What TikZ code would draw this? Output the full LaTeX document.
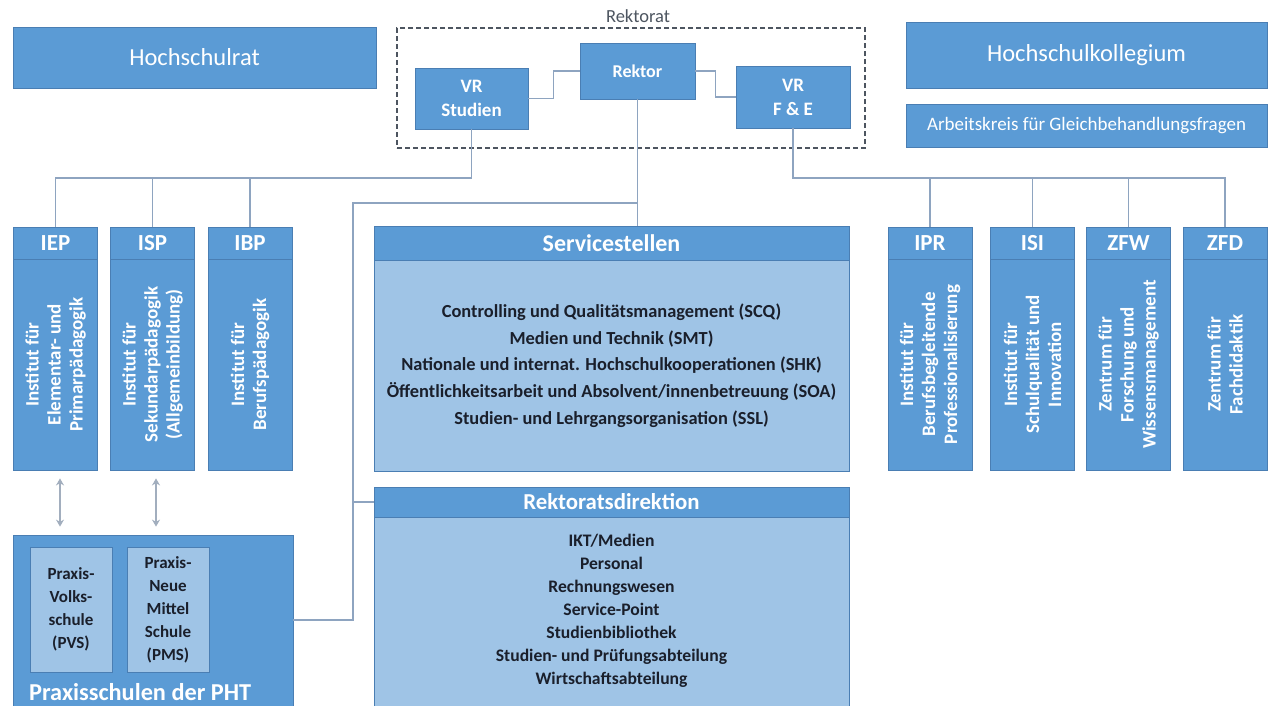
\documentclass[tikz,border=0pt]{standalone}
\usepackage{fontspec}
\setmainfont{Carlito}
\usetikzlibrary{calc,arrows.meta}
\definecolor{boxblue}{HTML}{5B9BD5}
\definecolor{edgeblue}{HTML}{4A7EB3}
\definecolor{lightblue}{HTML}{9FC4E6}
\definecolor{linecol}{HTML}{8EA4C0}
\definecolor{arrowcol}{HTML}{A2AEBE}
\definecolor{darktext}{HTML}{1A1F2B}
\definecolor{dashcol}{HTML}{4D5560}
\tikzset{
  blbox/.style={draw=edgeblue, fill=boxblue, line width=0.8pt, inner sep=0pt, text=white},
  ltbox/.style={draw=edgeblue, fill=lightblue, line width=0.8pt, inner sep=0pt, text=darktext},
  conn/.style={draw=linecol, line width=1.4pt},
  dblarrow/.style={draw=arrowcol, line width=1.2pt, {Stealth[length=7pt,width=8pt]}-{Stealth[length=7pt,width=8pt]}},
  rektbox/.style={draw=dashcol, line width=1.5pt, dash pattern=on 5pt off 3pt},
  instbody/.style={blbox, minimum width=84pt, minimum height=211pt},
  insthead/.style={blbox, minimum width=84pt, minimum height=32pt, font=\bfseries\fontsize{23}{25}\selectfont},
  insttext/.style={rotate=90, align=center, text=white, font=\bfseries\fontsize{19}{22}\selectfont},
}
\newcommand\instbox[4]{%
  \node[instbody] (#1) at (#2,364.5) {};
  \node[insthead] (#1hd) at (#2,243) {#3};
  \node[insttext] (#1tx) at (#2,364.5) {#4};
}
\begin{document}
\begin{tikzpicture}[x=1pt,y=-1pt]
\useasboundingbox (0,0) rectangle (1268,705);
\clip (0,0) rectangle (1268,705);
\fill[white] (0,0) rectangle (1268,705);

% connectors (drawn first, behind boxes)
\coordinate (vrsS) at (471.5,129);
\coordinate (vrfS) at (793,128);
\coordinate (rekS) at (637.5,99);

% top row
\node[blbox, minimum width=363pt, minimum height=61pt, font=\fontsize{24.5}{27}\selectfont] (hr) at (194.5,57.5) {Hochschulrat};
\node[blbox, minimum width=361pt, minimum height=66pt, font=\fontsize{24.5}{27}\selectfont] (hk) at (1086.5,55) {Hochschulkollegium};
\node[blbox, minimum width=361pt, minimum height=43pt, font=\fontsize{19}{21}\selectfont] (ak) at (1086.5,125.5) {Arbeitskreis für Gleichbehandlungsfragen};

% Rektorat
\node[rektbox, minimum width=468pt, minimum height=120pt, inner sep=0pt] (rkt) at (631,88) {};
\node[text=dashcol, font=\fontsize{18.5}{20}\selectfont, inner sep=0pt] (rktlbl) at (638,16) {Rektorat};

\node[blbox, minimum width=113pt, minimum height=61pt, align=center, font=\bfseries\fontsize{19}{24}\selectfont] (vrs) at (471.5,98.5) {VR\\Studien};
\node[blbox, minimum width=115pt, minimum height=56pt, font=\bfseries\fontsize{18}{22}\selectfont] (rek) at (637.5,71) {Rektor};
\node[blbox, minimum width=114pt, minimum height=62pt, align=center, font=\bfseries\fontsize{19}{24}\selectfont] (vrf) at (793,97) {VR\\F \& E};

% institutes
\instbox{iep}{55.5}{IEP}{Institut für\\Elementar- und\\Primarpädagogik}
\instbox{isp}{152.5}{ISP}{Institut für\\Sekundarpädagogik\\(Allgemeinbildung)}
\instbox{ibp}{250}{IBP}{Institut für\\Berufspädagogik}
\instbox{ipr}{930}{IPR}{Institut für\\Berufsbegleitende\\Professionalisierung}
\instbox{isi}{1032.5}{ISI}{Institut für\\Schulqualität und\\Innovation}
\instbox{zfw}{1128.5}{ZFW}{Zentrum für\\Forschung und\\Wissensmanagement}
\instbox{zfd}{1225}{ZFD}{Zentrum für\\Fachdidaktik}

% Servicestellen
\node[ltbox, minimum width=475pt, minimum height=211pt] (svc) at (611.5,365.5) {};
\node[blbox, minimum width=475pt, minimum height=34pt, font=\bfseries\fontsize{24}{26}\selectfont] (svchd) at (611.5,243) {Servicestellen};
\node[text=darktext, align=center, font=\bfseries\fontsize{18.4}{26.75}\selectfont] (svctx) at (611.5,365.5) {Controlling und Qualitätsmanagement (SCQ)\\Medien und Technik (SMT)\\Nationale und internat. Hochschulkooperationen (SHK)\\Öffentlichkeitsarbeit und Absolvent/innenbetreuung (SOA)\\Studien- und Lehrgangsorganisation (SSL)};

% Rektoratsdirektion
\node[ltbox, minimum width=475pt, minimum height=203pt] (rd) at (611.5,618.5) {};
\node[blbox, minimum width=475pt, minimum height=30pt, font=\bfseries\fontsize{22.8}{25}\selectfont] (rdhd) at (611.5,502) {Rektoratsdirektion};
\node[text=darktext, align=center, font=\bfseries\fontsize{17.6}{23}\selectfont] (rdtx) at (611.5,611) {IKT/Medien\\Personal\\Rechnungswesen\\Service-Point\\Studienbibliothek\\Studien- und Prüfungsabteilung\\Wirtschaftsabteilung};

% Praxisschulen
\node[blbox, minimum width=280pt, minimum height=185pt] (prx) at (153,627.5) {};
\node[ltbox, minimum width=82pt, minimum height=125pt, align=center, font=\bfseries\fontsize{17}{23}\selectfont] (pvs) at (71,609.5) {Praxis-\\Volks-\\schule\\(PVS)};
\node[ltbox, minimum width=82pt, minimum height=125pt, align=center, font=\bfseries\fontsize{17}{23}\selectfont] (pms) at (168,609.5) {Praxis-\\Neue\\Mittel\\Schule\\(PMS)};
\node[anchor=west, text=white, inner sep=0pt, font=\bfseries\fontsize{24.3}{26}\selectfont] (prxlbl) at (29,692) {Praxisschulen der PHT};

% connectors
\coordinate (bl) at (vrs.south |- 0,178);
\coordinate (br) at (vrf.south |- 0,178);
\coordinate (jr) at (rek.south |- 0,203);
\coordinate (t1) at (353,203);
\coordinate (t2) at (353,620);
\coordinate (t3) at (t1 |- rdhd.west);

\draw[conn] (vrs.east) -- ++(25,0) |- (rek.west);
\draw[conn] (rek.east) -- ++(20,0) |- (vrf.west);
\draw[conn] (vrs.south) -- (bl) -| (iephd.north);
\draw[conn] (bl) -| (isphd.north);
\draw[conn] (bl) -| (ibphd.north);
\draw[conn] (vrf.south) -- (br) -| (zfdhd.north);
\draw[conn] (br) -| (iprhd.north);
\draw[conn] (br) -| (isihd.north);
\draw[conn] (br) -| (zfwhd.north);
\draw[conn] (rek.south) -- (rek.south |- svchd.north);
\draw[conn] (jr) -- (t1) -- (t2) -- (t2 -| prx.east);
\draw[conn] (t3) -- (rdhd.west);

% double arrows
\draw[dblarrow] ($(iep.south)+(4.5,8)$) -- ($(iep.south |- prx.north)+(4.5,-8)$);
\draw[dblarrow] ($(isp.south)+(3.5,8)$) -- ($(isp.south |- prx.north)+(3.5,-8)$);
\end{tikzpicture}
\end{document}
